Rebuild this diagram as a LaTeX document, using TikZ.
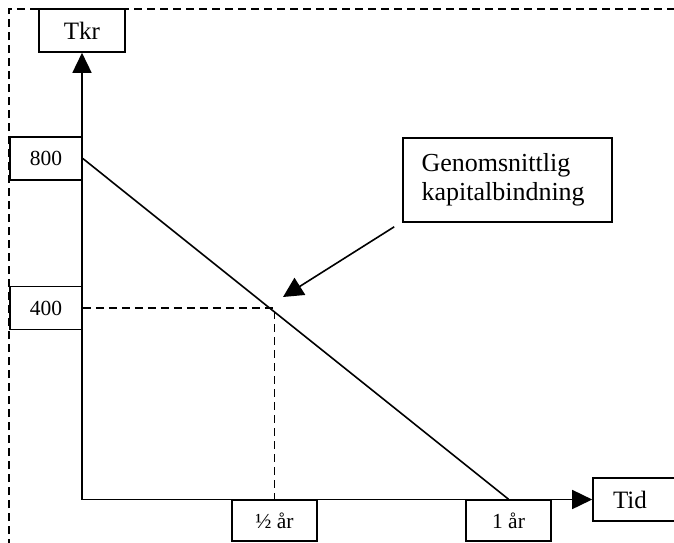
\documentclass[tikz,border=0pt]{standalone}
\usepackage{fontspec}
\setmainfont{Liberation Serif}
\usetikzlibrary{arrows.meta, positioning}

\begin{document}
\begin{tikzpicture}[
    x=1pt, y=-1pt,
    box/.style={rectangle, draw, line width=1.6pt, inner sep=0pt, minimum height=43pt, font=\fontsize{21.5}{24}\selectfont},
    axislabel/.style={box, font=\fontsize{25}{28}\selectfont},
    axis/.style={line width=1.6pt, -{Triangle[length=20pt, width=19pt]}},
    arrow/.style={line width=1.6pt, -{Triangle[length=20pt, width=20pt]}},
    guide/.style={line width=1.4pt, dash pattern=on 8pt off 5pt},
    frame/.style={line width=1.6pt, dash pattern=on 8pt off 5pt},
    note/.style={rectangle, draw, line width=1.6pt, minimum width=209pt, minimum height=84pt, text width=172pt, align=left, font=\fontsize{26}{29}\selectfont}
]
\useasboundingbox (0,0) rectangle (674,542);
\clip (0,0) rectangle (674,542);

% Frame
\draw[frame] (9,560) |- (700,9);

% Axis labels
\node[axislabel, minimum width=86pt] (tkr) at (82,30.5) {Tkr};
\node[axislabel, minimum width=90pt, text width=50pt, align=left] (tid) at (638,499.5) {Tid};

% Axes
\coordinate (origin) at (82,499.5);
\draw[axis] (origin) -- (tkr.south);
\draw[axis] (origin) -- (tid.west);

% Values
\node[box, minimum width=72pt] (v800) at (46,158.5) {800};
\node[box, minimum width=72pt] (v400) at (46,308) {400};
\node[box, minimum width=85pt, minimum height=41pt] (half) at (274.5,520.5) {½ år};
\node[box, minimum width=85pt, minimum height=41pt] (one) at (508.5,520.5) {1 år};

% Capital line
\draw[line width=1.6pt] (v800.east) -- (one.north);
\draw[guide] (v400.east) -| (half.north);

% Note
\node[note] (avgnote) at (507.5,180) {Genomsnittlig\\kapitalbindning};
\coordinate (avg) at (283,297);
\draw[arrow] ([shift={(-8,4)}]avgnote.south west) -- (avg);

\end{tikzpicture}
\end{document}
